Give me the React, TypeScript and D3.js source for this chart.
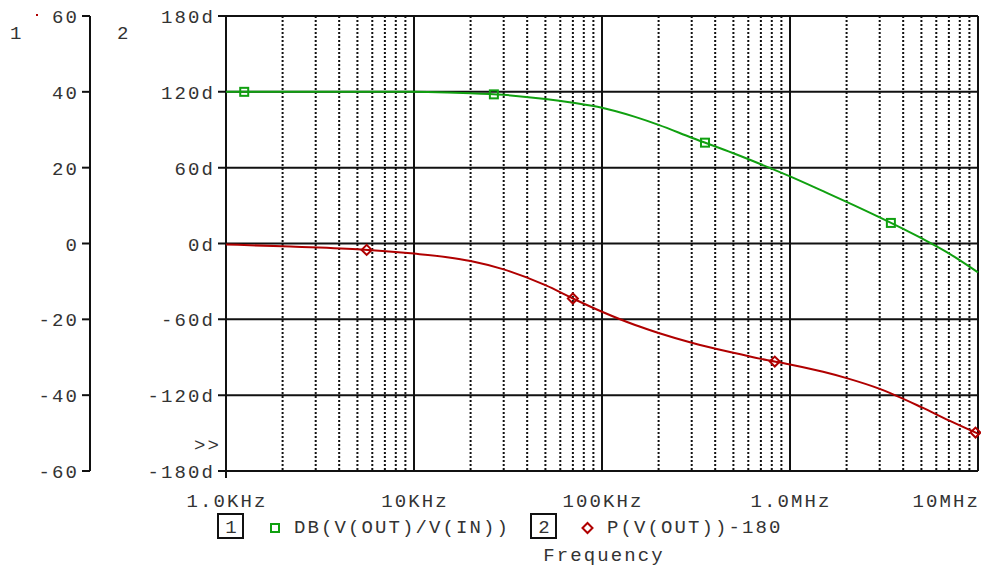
import React, { useEffect, useRef } from "react";
import * as d3 from "d3";

// frequency points (Hz)
const freqs = [1e3, 2e3, 5e3, 10e3, 15e3, 20e3, 30e3, 50e3, 70e3, 100e3, 150e3, 200e3, 300e3, 500e3, 700e3, 1e6, 1.5e6, 2e6, 3e6, 5e6, 7e6, 10e6];
// DB(V(OUT)/V(IN))
const gainDb = [40, 40, 40, 40, 39.85, 39.65, 39.2, 38.1, 37.1, 35.8, 33.4, 31.3, 27.9, 23.8, 20.9, 17.7, 13.8, 11.0, 6.9, 1.4, -2.6, -7.6];
// P(V(OUT))-180
const phaseDeg = [-0.8, -2.2, -4.5, -8, -10.8, -13.8, -20.5, -33, -43.5, -54, -64.5, -70.8, -78.5, -86.5, -91.3, -95.7, -101.5, -106.5, -115, -129.5, -140, -150.5];

const gainMarkers = [1.25e3, 26.6e3, 353e3, 3.44e6];
const phaseMarkers = [5.6e3, 70e3, 830e3, 9.7e6];

const xTicks = [1e3, 1e4, 1e5, 1e6, 1e7];
const xTickLabels = ["1.0KHz", "10KHz", "100KHz", "1.0MHz", "10MHz"];
const y1Ticks = [60, 40, 20, 0, -20, -40, -60];
const y2Ticks = [180, 120, 60, 0, -60, -120, -180];

const GREEN = "#10a010";
const RED = "#b00000";
const FONT = "'Liberation Mono', 'DejaVu Sans Mono', monospace";

function interp(f: number, xs: number[], ys: number[]) {
  const lf = Math.log10(f);
  for (let i = 0; i < xs.length - 1; i++) {
    const a = Math.log10(xs[i]);
    const b = Math.log10(xs[i + 1]);
    if (lf >= a && lf <= b) return ys[i] + ((lf - a) / (b - a)) * (ys[i + 1] - ys[i]);
  }
  return ys[ys.length - 1];
}

export default function App() {
  const ref = useRef<SVGSVGElement>(null);

  useEffect(() => {
    const width = 981;
    const height = 572;
    const left = 226, right = 978, top = 16, bottom = 471;

    const svg = d3.select(ref.current).attr("width", width).attr("height", height);
    svg.selectAll("*").remove();

    const x = d3.scaleLog().domain([1e3, 1e7]).range([left, right]);
    const y1 = d3.scaleLinear().domain([-60, 60]).range([bottom, top]);
    const y2 = d3.scaleLinear().domain([-180, 180]).range([bottom, top]);

    // minor dotted grid
    const minors: number[] = [];
    [1e3, 1e4, 1e5, 1e6].forEach(d => {
      for (let k = 2; k <= 9; k++) minors.push(d * k);
    });
    svg.append("g").selectAll("line").data(minors).enter().append("line")
      .attr("x1", d => x(d)).attr("x2", d => x(d))
      .attr("y1", top).attr("y2", bottom)
      .attr("stroke", "#111").attr("stroke-width", 2)
      .attr("stroke-dasharray", "2,2");

    // major grid
    svg.append("g").selectAll("line").data(xTicks).enter().append("line")
      .attr("x1", d => x(d)).attr("x2", d => x(d))
      .attr("y1", top).attr("y2", bottom)
      .attr("stroke", "#111").attr("stroke-width", 2);
    svg.append("g").selectAll("line").data(y2Ticks).enter().append("line")
      .attr("x1", left - 8).attr("x2", right)
      .attr("y1", d => y2(d)).attr("y2", d => y2(d))
      .attr("stroke", "#111").attr("stroke-width", 2);
    // left border a bit longer
    svg.append("line").attr("x1", left).attr("x2", left).attr("y1", top).attr("y2", bottom + 7)
      .attr("stroke", "#111").attr("stroke-width", 2);

    // axis 1 (dB)
    svg.append("line").attr("x1", 90).attr("x2", 90).attr("y1", top).attr("y2", bottom)
      .attr("stroke", "#111").attr("stroke-width", 2);
    svg.append("g").selectAll("line").data(y1Ticks).enter().append("line")
      .attr("x1", 82).attr("x2", 90)
      .attr("y1", d => y1(d)).attr("y2", d => y1(d))
      .attr("stroke", "#111").attr("stroke-width", 2);

    const txt = (g: any) => g.attr("font-family", FONT).attr("font-size", 19)
      .attr("letter-spacing", 2.1).attr("fill", "#333");

    svg.append("g").selectAll("text").data(y1Ticks).enter().append("text")
      .call(txt).attr("text-anchor", "end")
      .attr("x", 79).attr("y", d => y1(d) + 7)
      .text(d => String(d));
    svg.append("g").selectAll("text").data(y2Ticks).enter().append("text")
      .call(txt).attr("text-anchor", "end")
      .attr("x", 215).attr("y", d => y2(d) + 7)
      .text(d => d + "d");

    svg.append("text").call(txt).attr("x", 10).attr("y", 39).text("1");
    svg.append("text").call(txt).attr("x", 117).attr("y", 39).text("2");
    svg.append("rect").attr("x", 36).attr("y", 14).attr("width", 2).attr("height", 2).attr("fill", RED);
    svg.append("text").call(txt).attr("text-anchor", "end").attr("x", 221).attr("y", 451).text(">>");

    // x labels
    svg.append("g").selectAll("text").data(xTicks).enter().append("text")
      .call(txt)
      .attr("text-anchor", (d, i) => (i === xTicks.length - 1 ? "end" : "middle"))
      .attr("x", (d, i) => (i === xTicks.length - 1 ? x(d) + 2 : x(d) + 1))
      .attr("y", 507)
      .text((d, i) => xTickLabels[i]);

    // curves
    const pts1 = freqs.map((f, i) => [f, gainDb[i]] as [number, number]);
    const pts2 = freqs.map((f, i) => [f, phaseDeg[i]] as [number, number]);
    const line1 = d3.line<[number, number]>().x(d => x(d[0])).y(d => y1(d[1])).curve(d3.curveMonotoneX);
    const line2 = d3.line<[number, number]>().x(d => x(d[0])).y(d => y2(d[1])).curve(d3.curveMonotoneX);
    svg.append("path").attr("d", line2(pts2)).attr("fill", "none").attr("stroke", RED).attr("stroke-width", 2);
    svg.append("path").attr("d", line1(pts1)).attr("fill", "none").attr("stroke", GREEN).attr("stroke-width", 2);

    // markers
    svg.append("g").selectAll("rect").data(gainMarkers).enter().append("rect")
      .attr("x", d => x(d) - 4).attr("y", d => y1(interp(d, freqs, gainDb)) - 4)
      .attr("width", 8).attr("height", 8)
      .attr("fill", "none").attr("stroke", GREEN).attr("stroke-width", 2);
    const diamond = (cx: number, cy: number) => `M${cx - 5},${cy}L${cx},${cy - 5}L${cx + 5},${cy}L${cx},${cy + 5}Z`;
    svg.append("g").selectAll("path").data(phaseMarkers).enter().append("path")
      .attr("d", d => diamond(x(d), y2(interp(d, freqs, phaseDeg))))
      .attr("fill", "none").attr("stroke", RED).attr("stroke-width", 2);

    // legend
    svg.append("rect").attr("x", 218).attr("y", 514).attr("width", 25).attr("height", 24)
      .attr("fill", "none").attr("stroke", "#111").attr("stroke-width", 2);
    svg.append("text").call(txt).attr("text-anchor", "middle").attr("x", 232).attr("y", 533).text("1");
    svg.append("rect").attr("x", 271).attr("y", 524).attr("width", 8).attr("height", 8)
      .attr("fill", "none").attr("stroke", GREEN).attr("stroke-width", 2);
    svg.append("text").call(txt).attr("x", 294).attr("y", 533).text("DB(V(OUT)/V(IN))");

    svg.append("rect").attr("x", 531).attr("y", 514).attr("width", 25).attr("height", 24)
      .attr("fill", "none").attr("stroke", "#111").attr("stroke-width", 2);
    svg.append("text").call(txt).attr("text-anchor", "middle").attr("x", 545).attr("y", 533).text("2");
    svg.append("path").attr("d", diamond(587.5, 528)).attr("fill", "none").attr("stroke", RED).attr("stroke-width", 2);
    svg.append("text").call(txt).attr("x", 607).attr("y", 533).text("P(V(OUT))-180");

    svg.append("text").call(txt).attr("text-anchor", "middle").attr("x", 604).attr("y", 561).text("Frequency");
  }, []);

  return (
    <svg ref={ref} style={{ position: "absolute", left: 0, top: 0, background: "#fff" }}></svg>
  );
}
